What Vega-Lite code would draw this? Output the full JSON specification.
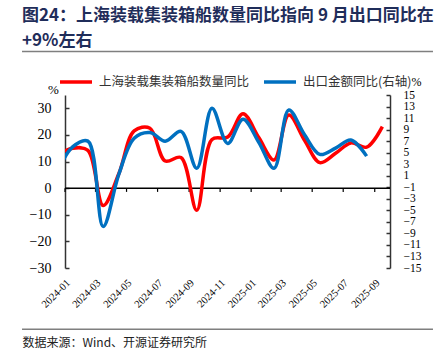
{
  "$schema": "https://vega.github.io/schema/vega-lite/v6.json",
  "width": 325,
  "height": 173,
  "autosize": {"type": "none"},
  "padding": {"left": 65, "top": 95, "right": 54, "bottom": 95},
  "background": "white",
  "title": {
    "text": ["图24：上海装载集装箱船数量同比指向 9 月出口同比在", "+9%左右"],
    "anchor": "start",
    "frame": "group",
    "dx": -43,
    "dy": -1,
    "font": "Noto Sans CJK SC",
    "fontSize": 17,
    "fontWeight": "bold",
    "color": "#1F2D5A",
    "lineHeight": 25,
    "offset": 0
  },
  "data": {
    "values": [
      {"date": "2023-12-16", "ships": 12.3, "exports": 1.5},
      {"date": "2024-01-16", "ships": 15.0, "exports": 6.0},
      {"date": "2024-02-15", "ships": 14.2, "exports": 7.0},
      {"date": "2024-03-16", "ships": -6.5, "exports": -7.8},
      {"date": "2024-04-16", "ships": 5.5, "exports": 1.3},
      {"date": "2024-05-16", "ships": 21.5, "exports": 7.5},
      {"date": "2024-06-16", "ships": 22.5, "exports": 8.5},
      {"date": "2024-07-16", "ships": 10.2, "exports": 7.0},
      {"date": "2024-08-16", "ships": 11.5, "exports": 8.7},
      {"date": "2024-09-16", "ships": -8.3, "exports": 2.3},
      {"date": "2024-10-16", "ships": 18.3, "exports": 12.7},
      {"date": "2024-11-16", "ships": 19.2, "exports": 6.6},
      {"date": "2024-12-16", "ships": 28.0, "exports": 10.8},
      {"date": "2025-01-16", "ships": 19.0, "exports": 6.8},
      {"date": "2025-02-15", "ships": 10.6, "exports": 2.3},
      {"date": "2025-03-16", "ships": 27.5, "exports": 12.4},
      {"date": "2025-04-16", "ships": 18.0, "exports": 8.1},
      {"date": "2025-05-16", "ships": 9.6, "exports": 4.7},
      {"date": "2025-06-16", "ships": 13.1, "exports": 5.8},
      {"date": "2025-07-16", "ships": 17.0, "exports": 7.2},
      {"date": "2025-08-16", "ships": 15.4, "exports": 4.4},
      {"date": "2025-09-16", "ships": 23.1, "exports": null}
    ],
    "format": {"parse": {"date": "date"}}
  },
  "layer": [
    {
      "data": {"values": [{"y": 51.3}, {"y": -53.0}]},
      "mark": {"type": "rule", "color": "#7F7F7F", "strokeWidth": 1.5},
      "encoding": {
        "x": {"datum": 1696766400000, "type": "temporal", "axis": {"labelOverlap": false}},
        "x2": {"datum": 1766577600000},
        "y": {"field": "y", "type": "quantitative", "scale": {"domain": [-30, 35], "nice": false, "zero": false}, "axis": null}
      }
    },
    {
      "data": {"values": [{"y": 0}]},
      "mark": {"type": "rule", "color": "#000000", "strokeWidth": 1.5},
      "encoding": {
        "y": {"field": "y", "type": "quantitative", "scale": {"domain": [-30, 35], "nice": false, "zero": false}, "axis": null}
      }
    },
    {
      "transform": [{"filter": "utcmonth(datum.date) % 2 == 0 && utcyear(datum.date) >= 2024"}],
      "mark": {"type": "rule", "color": "#000000", "strokeWidth": 1.2},
      "encoding": {
        "x": {"field": "date", "timeUnit": "utcyearmonth", "type": "temporal", "axis": {"labelOverlap": false}},
        "y": {"datum": 0, "type": "quantitative", "scale": {"domain": [-30, 35], "nice": false, "zero": false}, "axis": null},
        "y2": {"datum": -1.4}
      }
    },
    {
      "mark": {"type": "line", "interpolate": "catmull-rom", "strokeWidth": 3.5, "clip": true},
      "encoding": {
        "x": {
          "field": "date",
          "type": "temporal",
          "scale": {
            "type": "utc",
            "nice": false,
            "domain": [1704067200000, 1759276800000]
          },
          "axis": {
            "orient": "bottom",
            "values": [1704067200000, 1709251200000, 1714521600000, 1719792000000, 1725148800000, 1730419200000, 1735689600000, 1740787200000, 1746057600000, 1751328000000, 1756684800000],
            "tickCount": 12,
            "format": "%Y-%m",
            "labelAngle": -45,
            "labelAlign": "right",
            "labelBaseline": "middle",
            "domain": false,
            "ticks": false,
            "grid": false,
            "labelFont": "Liberation Serif",
            "labelFontSize": 10.5,
            "labelColor": "#000000",
            "labelPadding": 13,
            "labelOffset": 3,
            "labelOverlap": false,
            "labelFlush": false,
            "title": "数据来源：Wind、开源证券研究所",
            "titleX": -43,
            "titleY": 74,
            "titleAlign": "left",
            "titleAnchor": "start",
            "titleBaseline": "middle",
            "titleFont": "Noto Sans CJK SC",
            "titleFontSize": 12,
            "titleFontWeight": "normal",
            "titleColor": "#222222"
          }
        },
        "y": {
          "field": "ships",
          "type": "quantitative",
          "scale": {"domain": [-30, 35], "nice": false, "zero": false},
          "axis": {
            "orient": "left",
            "values": [-30, -20, -10, 0, 10, 20, 30],
            "domainColor": "#333333",
            "domainWidth": 1.5,
            "tickColor": "#333333",
            "tickWidth": 1.5,
            "tickSize": -4,
            "labelPadding": 18,
            "labelFont": "Liberation Serif",
            "labelFontSize": 14,
            "labelColor": "#000000",
            "grid": false,
            "title": "%",
            "titleAngle": 0,
            "titleX": -12,
            "titleY": -6,
            "titleAlign": "center",
            "titleBaseline": "middle",
            "titleFont": "Liberation Serif",
            "titleFontSize": 13,
            "titleFontWeight": "normal",
            "titleColor": "#000000"
          }
        },
        "color": {
          "datum": "上海装载集装箱船数量同比",
          "type": "nominal",
          "scale": {
            "domain": ["上海装载集装箱船数量同比", "出口金额同比(右轴)"],
            "range": ["#FF0000", "#0070C0"]
          },
          "legend": {
            "orient": "none",
            "legendX": -7,
            "legendY": -31,
            "direction": "horizontal",
            "title": null,
            "symbolType": "stroke",
            "symbolSize": 1024,
            "symbolStrokeWidth": 3.5,
            "labelFont": "Noto Sans CJK SC",
            "labelFontSize": 12.5,
            "labelColor": "#333333",
            "labelOffset": 5,
            "columnPadding": 7,
            "labelLimit": 300,
            "padding": 0
          }
        }
      }
    },
    {
      "mark": {"type": "line", "interpolate": "catmull-rom", "strokeWidth": 3.5, "clip": true},
      "encoding": {
        "x": {
          "field": "date",
          "type": "temporal",
          "axis": {"labelOverlap": false}
        },
        "y": {
          "field": "exports",
          "type": "quantitative",
          "scale": {"domain": [-15, 15], "nice": false, "zero": false},
          "axis": {
            "orient": "right",
            "values": [-15, -13, -11, -9, -7, -5, -3, -1, 1, 3, 5, 7, 9, 11, 13, 15],
            "tickCount": 16,
            "domainColor": "#333333",
            "domainWidth": 1.5,
            "tickColor": "#333333",
            "tickWidth": 1.5,
            "tickSize": -4,
            "labelPadding": 17,
            "labelFont": "Liberation Serif",
            "labelFontSize": 11.5,
            "labelColor": "#000000",
            "labelOverlap": false,
            "grid": false,
            "title": "%",
            "titleAngle": 0,
            "titleX": 26,
            "titleY": -14,
            "titleAlign": "center",
            "titleBaseline": "middle",
            "titleFont": "Liberation Serif",
            "titleFontSize": 12,
            "titleFontWeight": "normal",
            "titleColor": "#000000"
          }
        },
        "color": {"datum": "出口金额同比(右轴)", "type": "nominal"}
      }
    }
  ],
  "resolve": {"scale": {"y": "independent"}},
  "config": {
    "view": {"stroke": null},
    "axis": {"grid": false},
    "axisX": {"labelOverlap": false}
  }
}
